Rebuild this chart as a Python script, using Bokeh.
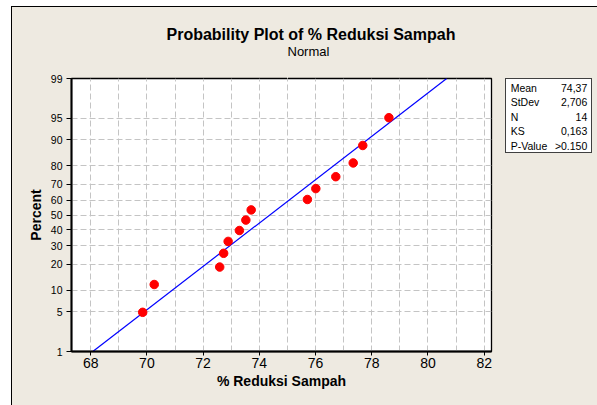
from statistics import NormalDist
from bokeh.plotting import figure
from bokeh.layouts import row
from bokeh.models import (Range1d, FixedTicker, CustomJSTickFormatter, Title,
                          ColumnDataSource, Div, LinearAxis)
from bokeh.embed import file_html
from bokeh.resources import INLINE

# ---- data ----
reduksi = [69.85, 70.26, 72.59, 72.73, 72.89, 73.29, 73.52, 73.71,
           75.71, 76.01, 76.72, 77.34, 77.68, 78.61]
percent = [4.86, 11.81, 18.75, 25.69, 32.64, 39.58, 46.53, 53.47,
           60.42, 67.36, 74.31, 81.25, 88.19, 95.14]
y_tick_pct = [1, 5, 10, 20, 30, 40, 50, 60, 70, 80, 90, 95, 99]
y_tick_labels = [str(v) for v in y_tick_pct]
x_ticks = [68, 70, 72, 74, 76, 78, 80, 82]
x_grid = list(range(68, 83))
fit_mean = 74.37
fit_sd = 2.706
stat_names = ["Mean", "StDev", "N", "KS", "P-Value"]
stat_values = ["74,37", "2,706", "14", "0,163", ">0.150"]

nd = NormalDist()
def probit(p):
    return nd.inv_cdf(p / 100.0)

BG = "#EEEAE1"
FONT = "Liberation Sans"

p = figure(width=493, height=398, output_backend="svg", toolbar_location=None,
           title=None,
           x_range=Range1d(67.317, 82.26),
           y_range=Range1d(probit(1), probit(99)),
           min_border_left=59, min_border_right=14,
           min_border_top=71, min_border_bottom=54)
p.background_fill_color = "white"
p.border_fill_color = BG
p.outline_line_color = "black"
p.outline_line_width = 1.3

# bottom (x) axis
xa = p.below[0]
xa.ticker = FixedTicker(ticks=x_ticks)
xa.minor_tick_line_color = None
xa.major_tick_in = 0
xa.major_tick_out = 4
xa.major_label_standoff = 2
xa.major_label_text_font = FONT
xa.major_label_text_font_size = "14px"
xa.major_label_text_color = "black"
xa.axis_label = "% Reduksi Sampah"
xa.axis_label_text_font = FONT
xa.axis_label_text_font_size = "14px"
xa.axis_label_text_font_style = "bold"
xa.axis_label_text_color = "black"
xa.axis_label_standoff = 2
xa.axis_line_width = 2

# left (y) axis on a normal-probability scale
y_ticks_z = [probit(v) for v in y_tick_pct]
ya = p.left[0]
ya.ticker = FixedTicker(ticks=y_ticks_z)
ya.formatter = CustomJSTickFormatter(
    args=dict(tv=y_ticks_z, tl=y_tick_labels),
    code="""
let best = 0, bd = 1e9;
for (let i = 0; i < tv.length; i++) {
  const d = Math.abs(tv[i] - tick);
  if (d < bd) { bd = d; best = i; }
}
return tl[best];
""")
ya.minor_tick_line_color = None
ya.major_tick_in = 0
ya.major_tick_out = 5
ya.major_label_standoff = 4
ya.major_label_text_font = FONT
ya.major_label_text_font_size = "10.5px"
ya.major_label_text_color = "black"
ya.axis_label = "Percent"
ya.axis_label_text_font = FONT
ya.axis_label_text_font_size = "14px"
ya.axis_label_text_font_style = "bold"
ya.axis_label_text_color = "black"
ya.axis_label_standoff = 4
ya.axis_line_width = 2

# grid
p.xgrid.ticker = FixedTicker(ticks=x_grid)
p.ygrid.ticker = FixedTicker(ticks=y_ticks_z)
for g in (p.xgrid, p.ygrid):
    g.grid_line_color = "#C4C4C4"
    g.grid_line_dash = "6 3"
    g.grid_line_width = 1

# invisible spacer axis between the frame and the subtitle
# (one background-coloured tick gives it a fixed height, no label text)
spacer = LinearAxis(ticker=FixedTicker(ticks=[75]), axis_line_color=None,
                    major_tick_line_color=BG, minor_tick_line_color=None,
                    major_tick_in=0, major_tick_out=20, minor_tick_out=0,
                    major_label_standoff=0, major_label_overrides={75: ""},
                    major_label_text_font_size="0px")
p.add_layout(spacer, "above")

# titles (subtitle first: later ones stack further out)
p.add_layout(Title(text="Normal", text_font=FONT, text_font_size="13px",
                   text_font_style="normal", text_color="black",
                   align="left", offset=216, standoff=0), "above")
p.add_layout(Title(text="Probability Plot of % Reduksi Sampah", text_font=FONT,
                   text_font_size="16px", text_font_style="bold",
                   text_color="black",
                   align="left", offset=95, standoff=-3), "above")

# fitted line
fit_x = [fit_mean + fit_sd * probit(1), fit_mean + fit_sd * probit(99)]
fit_y = [probit(1), probit(99)]
p.line(fit_x, fit_y, line_color="#0000FF", line_width=1.2)

# points
src = ColumnDataSource(dict(x=reduksi, y=[probit(v) for v in percent]))
p.scatter("x", "y", source=src, size=8.5, fill_color="#FF0000",
          line_color="#FF0000")

# ---- stats box ----
rows_html = "".join(
    f'<div style="display:flex;justify-content:space-between;height:14.5px;'
    f'line-height:14.5px;"><span>{n}</span><span>{v}</span></div>'
    for n, v in zip(stat_names, stat_values))
box_html = (
    f'<div style="margin-top:71px;width:86.7px;height:75px;box-sizing:border-box;'
    f'background:white;border:1px solid #404040;padding:1.5px 3.4px 0 4.7px;'
    f'font-family:\'{FONT}\';font-size:10.5px;color:black;">{rows_html}</div>')
stats = Div(text=box_html, width=92, height=398, margin=0,
            styles={"background-color": BG})

layout = row(p, stats, spacing=0)
layout.styles = {"margin-left": "11px", "margin-top": "6px",
                 "border-left": "1px solid black",
                 "border-top": "1px solid black",
                 "background-color": BG}

open("out.html", "w").write(file_html(layout, INLINE))
